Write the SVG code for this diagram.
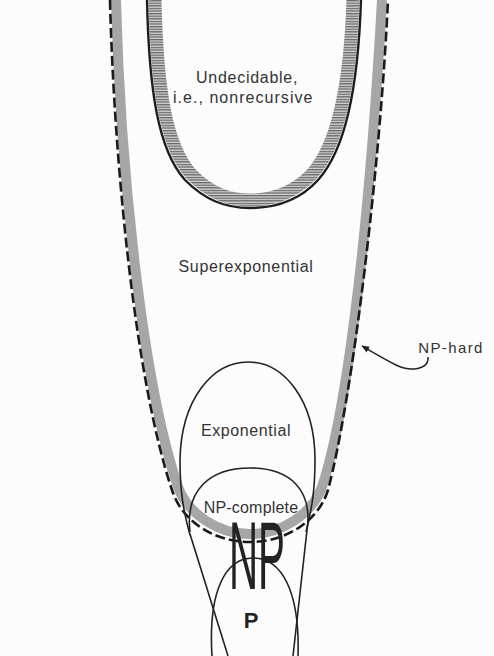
<svg xmlns="http://www.w3.org/2000/svg" width="494" height="656" viewBox="0 0 494 656">
<defs>
<pattern id="hatch" patternUnits="userSpaceOnUse" width="6" height="2.6">
<rect width="6" height="2.6" fill="#d4d4d4"/>
<rect width="6" height="1.3" fill="#666"/>
</pattern>
<marker id="arr" viewBox="0 0 10 10" refX="9" refY="5" markerWidth="8" markerHeight="8" markerUnits="userSpaceOnUse" orient="auto">
<path d="M0,1 L10,5 L0,9 Z" fill="#222"/>
</marker>
<style>
.lbl{font-family:"Liberation Sans",Arial,sans-serif;font-size:16px;fill:#333;text-anchor:middle;letter-spacing:0.6px}
.thin{fill:none;stroke:#222;stroke-width:1.6}
.band{fill:none;stroke:#a6a6a6;stroke-width:10}
.dash{fill:none;stroke:#1a1a1a;stroke-width:2.6;stroke-dasharray:10 4}
</style>
</defs>
<rect width="494" height="656" fill="#fcfcfc"/>

<g id="undecidable">
<path d="M155,0 C157,90 166,146 191,174 C210,193 228,200 250,200 C272,200 294,193 312,174 C337,146 350,90 353,0" fill="none" stroke="url(#hatch)" stroke-width="13"/>
<path d="M147,0 C149,90 158,150 185,180 C205,200 225,208 250,208 C275,208 300,200 318,180 C345,150 358,90 361,0" fill="none" stroke="#1e1e1e" stroke-width="2.4"/>
<text class="lbl" x="247" y="83" textLength="102" lengthAdjust="spacing">Undecidable,</text>
<text class="lbl" x="243" y="103" textLength="140" lengthAdjust="spacing">i.e., nonrecursive</text>
</g>

<g id="np-hard">
<path class="band" d="M116,0 C120,160 141,378 178,487 C188,514 218,534 250,534 C282,534 312,514 322,487 C345,418 368,250 382,0"/>
<path class="dash" d="M110,0 C114,160 135,380 172,490 C182,522 215,542 250,542 C285,542 318,522 328,490 C352,400 380,170 388,0"/>
<text class="lbl" x="451" y="353" style="font-size:15px;letter-spacing:1.4px">NP-hard</text>
</g>

<g id="superexponential">
<text class="lbl" x="246" y="272" textLength="135" lengthAdjust="spacing">Superexponential</text>
</g>

<g id="exponential">
<path class="thin" d="M190,535 C183,510 180,490 180,460 C181,400 212,362 248,362 C284,362 315,400 315,460 C315,490 312,508 306,532"/>
<text class="lbl" x="246" y="436">Exponential</text>
</g>

<g id="np-complete">
<path class="thin" d="M190,532 C185,490 210,468 250,468 C290,468 313,490 307,530"/>
<text class="lbl" x="251" y="513" style="letter-spacing:0.2px">NP-complete</text>
</g>

<g id="np">
<path class="thin" d="M190,534 L228,656"/>
<path class="thin" d="M307,530 L293,656"/>
<text x="0" y="0" transform="translate(257,589) scale(0.42,1)" style="font-family:'Liberation Sans',Arial,sans-serif;font-size:96px;fill:#222;text-anchor:middle">NP</text>
</g>

<g id="p">
<path class="thin" d="M212,656 C208,592 225,558 253,558 C282,558 300,592 298,656"/>
<text x="251" y="628" style="font-family:'Liberation Sans',Arial,sans-serif;font-size:22px;font-weight:bold;fill:#222;text-anchor:middle">P</text>
</g>

<g id="connectors">
<path d="M428,357 C429,370 410,372 396,365 C384,359 374,353 362,346" fill="none" stroke="#222" stroke-width="1.4" marker-end="url(#arr)"/>
</g>
</svg>
